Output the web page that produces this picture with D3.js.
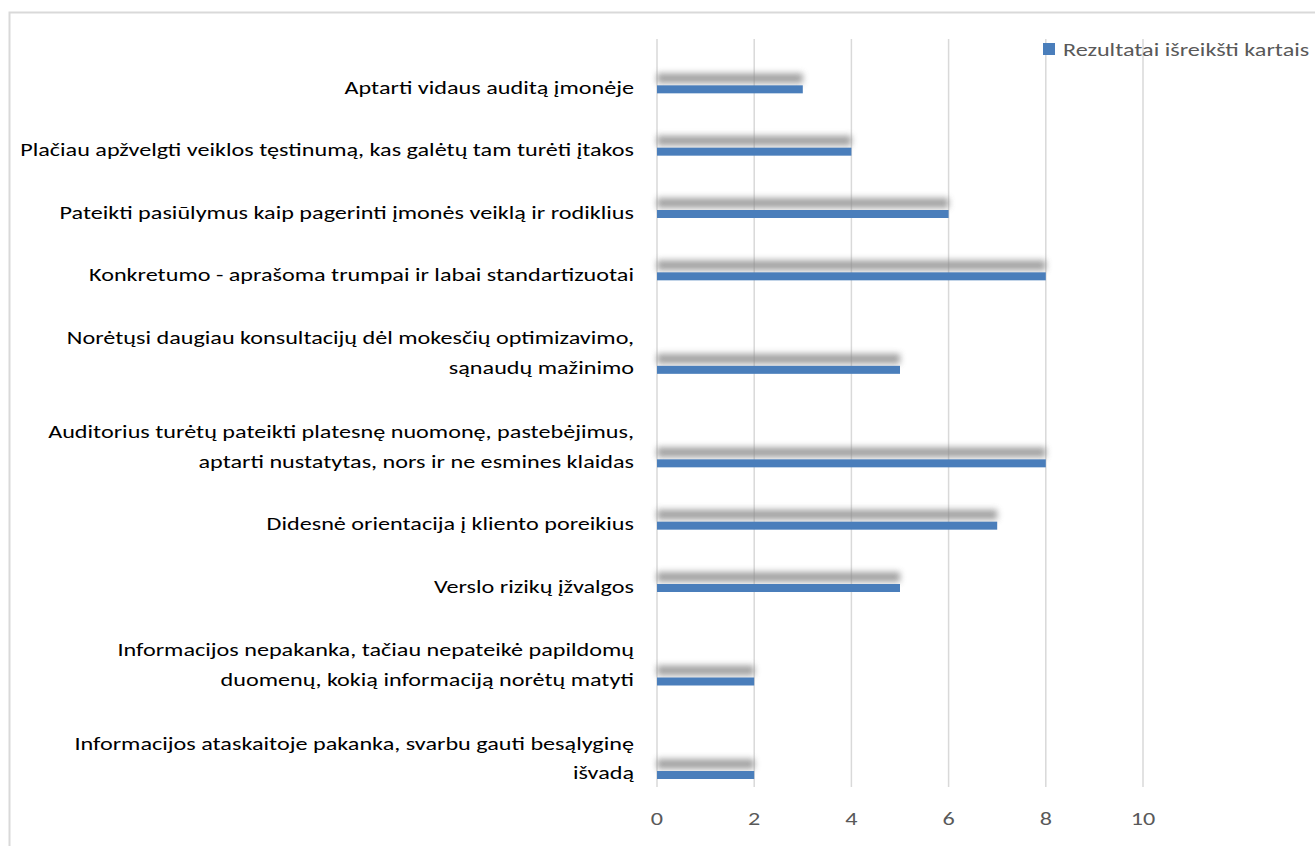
<!DOCTYPE html>
<html><head><meta charset="utf-8">
<script src="https://cdn.jsdelivr.net/npm/d3@7"></script>
<style>body{margin:0;background:#fff;} svg{display:block;}</style>
</head><body>
<svg id="c" width="1315" height="846"></svg>
<script>
const categories = [
  "Aptarti vidaus auditą įmonėje",
  "Plačiau apžvelgti veiklos tęstinumą, kas galėtų tam turėti įtakos",
  "Pateikti pasiūlymus kaip pagerinti įmonės veiklą ir rodiklius",
  "Konkretumo - aprašoma trumpai ir labai standartizuotai",
  "Norėtųsi daugiau konsultacijų dėl mokesčių optimizavimo,\nsąnaudų mažinimo",
  "Auditorius turėtų pateikti platesnę nuomonę, pastebėjimus,\naptarti nustatytas, nors ir ne esmines klaidas",
  "Didesnė orientacija į kliento poreikius",
  "Verslo rizikų įžvalgos",
  "Informacijos nepakanka, tačiau nepateikė papildomų\nduomenų, kokią informaciją norėtų matyti",
  "Informacijos ataskaitoje pakanka, svarbu gauti besąlyginę\nišvadą"
];
const values = [3, 4, 6, 8, 5, 8, 7, 5, 2, 2];
const xTicks = [0, 2, 4, 6, 8, 10];
const seriesName = "Rezultatai išreikšti kartais";

const svg = d3.select("#c");
const font = "Carlito, Calibri, Lato, 'Open Sans', sans-serif";
const sx = 1.3; // horizontal stretch of text seen in the reference

// outer chart border
svg.append("path").attr("d","M9.5,846 L9.5,12.5 L1315,12.5")
  .attr("fill","none").attr("stroke","#d9d9d9").attr("stroke-width",2);

const defs = svg.append("defs");
defs.append("filter").attr("id","blur").attr("x","-10%").attr("y","-100%").attr("width","120%").attr("height","300%")
  .append("feGaussianBlur").attr("stdDeviation",3);

// layout: each category occupies units according to its line count
const rows = categories.map((c,i)=>({label:c, lines:c.split("\n"), value:values[i]}));
let acc = 0;
rows.forEach(r=>{ r.start = acc; acc += r.lines.length + 1; r.end = acc; });
const plotTop = 39, plotBottom = 787;
const y = d3.scaleLinear().domain([0, acc]).range([plotTop, plotBottom]);
const x = d3.scaleLinear().domain([0, 10]).range([657, 1143]);

// gridlines
svg.append("g").selectAll("line").data(xTicks).join("line")
  .attr("x1",d=>x(d)).attr("x2",d=>x(d)).attr("y1",plotTop).attr("y2",plotBottom)
  .attr("stroke","#d9d9d9").attr("stroke-width",1.5);

const barH = 8;
const cy = r => y(r.end) - 12;

// shadows
svg.append("g").selectAll("rect").data(rows).join("rect")
  .attr("x", x(0)).attr("width", d=>x(d.value)-x(0))
  .attr("y", d=>cy(d)-barH/2-12).attr("height", 10)
  .attr("fill","#8a8a8a").attr("opacity",0.8).attr("filter","url(#blur)");

// bars
svg.append("g").selectAll("rect").data(rows).join("rect")
  .attr("x", x(0)).attr("width", d=>x(d.value)-x(0))
  .attr("y", d=>cy(d)-barH/2).attr("height", barH)
  .attr("fill","#4a7ebb");

// category labels
const lg = svg.append("g").attr("transform",`translate(634,0) scale(${sx},1)`)
  .attr("font-family",font).attr("font-size",18.6).attr("fill","#000");
rows.forEach(r=>{
  const n = r.lines.length;
  r.lines.forEach((t,j)=>{
    lg.append("text").attr("x",0).attr("y", cy(r) - 2 - (n-1-j)*30)
      .attr("dy","0.35em").attr("text-anchor","end").text(t);
  });
});

// x axis tick labels
const tg = svg.append("g").attr("font-family",font).attr("font-size",18.6).attr("fill","#595959");
tg.selectAll("text").data(xTicks).join("text")
  .attr("transform",d=>`translate(${x(d)},818) scale(${sx},1)`)
  .attr("dy","0.35em").attr("text-anchor","middle").text(d=>d);

// legend
svg.append("rect").attr("x",1043).attr("y",43).attr("width",12).attr("height",12).attr("fill","#4a7ebb");
svg.append("text").attr("transform",`translate(1063,49) scale(${sx},1)`).attr("dy","0.35em")
  .attr("font-family",font).attr("font-size",18.6).attr("fill","#595959").text(seriesName);
</script>
</body></html>
